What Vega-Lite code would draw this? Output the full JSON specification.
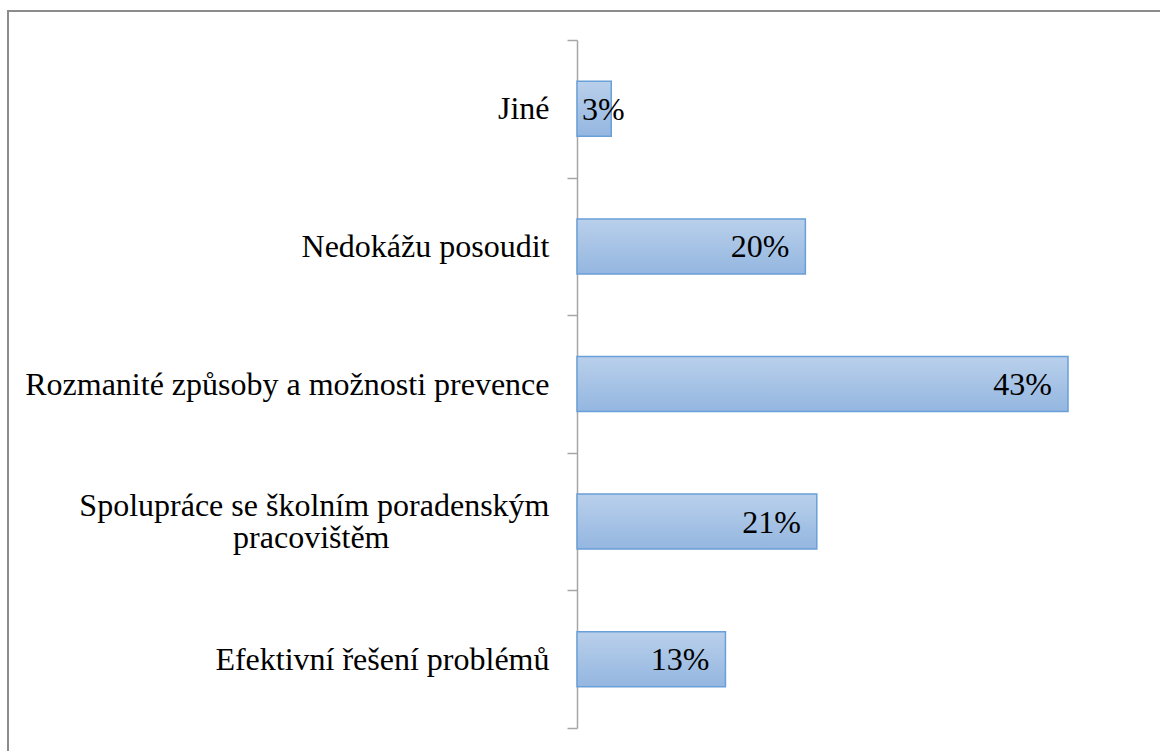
{
  "$schema": "https://vega.github.io/schema/vega-lite/v6.json",
  "autosize": "none",
  "width": 1160,
  "height": 751,
  "padding": {"left": 8, "top": 11, "right": 0, "bottom": 0},
  "background": "white",
  "config": {
    "view": {"stroke": "#8c8c8c", "strokeWidth": 2},
    "font": "Liberation Serif, Times New Roman, serif"
  },
  "data": {
    "values": [
      {"kategorie": "Jiné", "podil": 0.03},
      {"kategorie": "Nedokážu posoudit", "podil": 0.20},
      {"kategorie": "Rozmanité způsoby a možnosti prevence", "podil": 0.43},
      {"kategorie": "Spolupráce se školním poradenským pracovištěm", "podil": 0.21},
      {"kategorie": "Efektivní řešení problémů", "podil": 0.13}
    ]
  },
  "encoding": {
    "y": {
      "field": "kategorie",
      "type": "nominal",
      "sort": null,
      "scale": {"range": [29, 717], "paddingInner": 0, "paddingOuter": 0},
      "axis": {
        "title": null,
        "offset": -569,
        "domainColor": "#a6a6a6",
        "domainWidth": 1.5,
        "tickColor": "#a6a6a6",
        "tickWidth": 1.5,
        "tickSize": 10,
        "tickBand": "extent",
        "labelPadding": 18,
        "labelFont": "Liberation Serif, Times New Roman, serif",
        "labelFontSize": 32,
        "labelColor": "#000000",
        "labelLimit": 0,
        "labelLineHeight": 32,
        "labelOffset": {"condition": {"test": "datum.value == 'Spolupráce se školním poradenským pracovištěm'", "value": -16}, "value": 0},
        "labelExpr": "datum.value == 'Spolupráce se školním poradenským pracovištěm' ? ['Spolupráce se školním poradenským', 'pracovištěm\u00a0\u00a0\u00a0\u00a0\u00a0\u00a0\u00a0\u00a0\u00a0\u00a0\u00a0\u00a0\u00a0\u00a0\u00a0\u00a0\u00a0\u00a0\u00a0\u00a0\u200b'] : datum.label"
      }
    }
  },
  "layer": [
    {
      "mark": {
        "type": "bar",
        "height": {"band": 0.4},
        "fill": {
          "gradient": "linear",
          "x1": 0, "y1": 0, "x2": 0, "y2": 1,
          "stops": [
            {"offset": 0, "color": "#b9d0eb"},
            {"offset": 1, "color": "#94b6e0"}
          ]
        },
        "stroke": "#6a9fd8",
        "strokeWidth": 1.5
      },
      "encoding": {
        "x": {
          "field": "podil",
          "type": "quantitative",
          "scale": {"domain": [0, 0.43], "range": [569, 1060], "nice": false, "zero": true},
          "axis": null
        }
      }
    },
    {
      "transform": [{"filter": "datum.podil >= 0.05"}],
      "mark": {"type": "text", "align": "right", "baseline": "middle", "dx": -16, "dy": 1, "font": "Liberation Serif, Times New Roman, serif", "fontSize": 32, "color": "#000000"},
      "encoding": {
        "x": {"field": "podil", "type": "quantitative"},
        "text": {"field": "podil", "type": "quantitative", "format": ".0%"}
      }
    },
    {
      "transform": [{"filter": "datum.podil < 0.05"}],
      "mark": {"type": "text", "align": "left", "baseline": "middle", "dx": 5, "dy": 1, "font": "Liberation Serif, Times New Roman, serif", "fontSize": 32, "color": "#000000"},
      "encoding": {
        "x": {"datum": 0, "type": "quantitative"},
        "text": {"field": "podil", "type": "quantitative", "format": ".0%"}
      }
    }
  ]
}
